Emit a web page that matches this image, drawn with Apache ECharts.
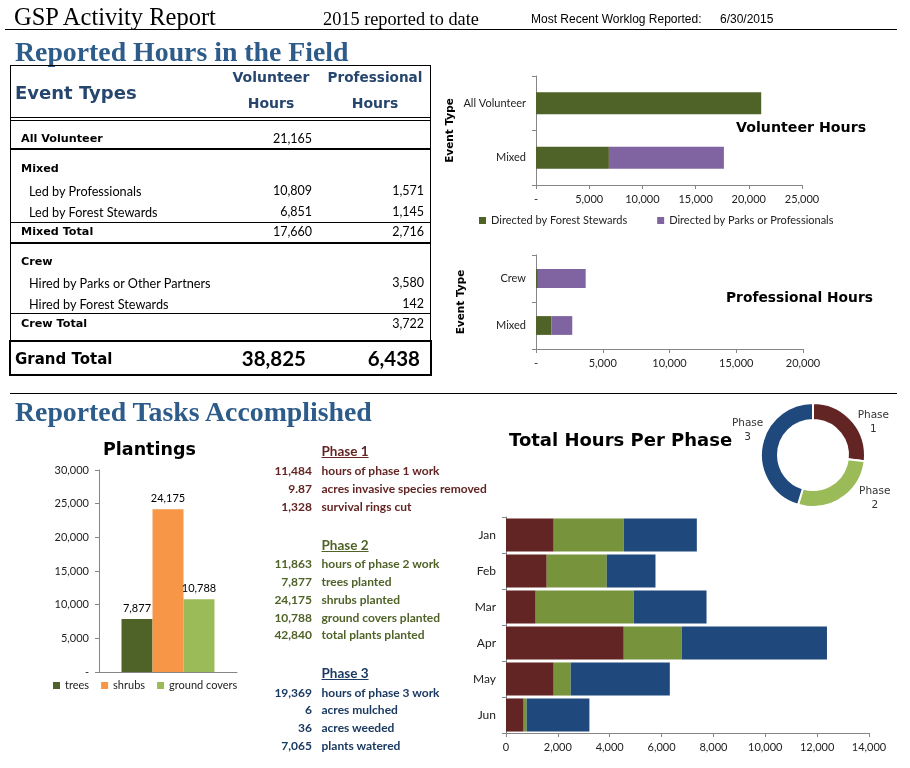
<!DOCTYPE html>
<html><head><meta charset="utf-8">
<script src="https://cdn.jsdelivr.net/npm/echarts@6/dist/echarts.min.js"></script>
<style>
html,body{margin:0;padding:0;background:#fff;}
#wrap{position:relative;width:910px;height:768px;overflow:hidden;background:#fff;}
#chart{position:absolute;left:0;top:0;width:910px;height:768px;}
.t{position:absolute;white-space:nowrap;}
.ln{position:absolute;background:#000;}
</style></head><body><div id="wrap"><div id="chart"></div></div>
<script>
// ---------------- data ----------------
const volCategories = ['All Volunteer', 'Mixed'];
const volByStewards = [21165, 6851];
const volByParks = [0, 10809];
const proCategories = ['Crew', 'Mixed'];
const proByStewards = [142, 1145];
const proByParks = [3580, 1571];
const seriesNames = ['Directed by Forest Stewards', 'Directed by Parks or Professionals'];
const volTicks = [0, 25000, 5000];
const proTicks = [0, 20000, 5000];

const plantNames = ['trees', 'shrubs', 'ground covers'];
const plantValues = [7877, 24175, 10788];
const plantTicks = [0, 30000, 5000];

const months = ['Jan', 'Feb', 'Mar', 'Apr', 'May', 'Jun'];
const phase1Hours = [1840, 1570, 1145, 4542, 1840, 682];
const phase2Hours = [2702, 2316, 3783, 2239, 656, 116];
const phase3Hours = [2818, 1879, 2806, 5598, 3822, 2419];
const monthTicks = [0, 14000, 2000];

const phaseNames = ['Phase 1', 'Phase 2', 'Phase 3'];
const phaseTotals = [11484, 11863, 19369];

const tableHead = ['Event Types', 'Volunteer', 'Hours', 'Professional', 'Hours'];
const tableLabels = ['All Volunteer', 'Mixed', 'Led by Professionals', 'Led by Forest Stewards', 'Mixed Total', 'Crew', 'Hired by Parks or Other Partners', 'Hired by Forest Stewards', 'Crew Total'];
const tableVolunteer = ['21,165', '', '10,809', '6,851', '17,660', '', '', '', ''];
const tableProfessional = ['', '', '1,571', '1,145', '2,716', '', '3,580', '142', '3,722'];
const tableKinds = ['group', 'group', 'item', 'item', 'group', 'group', 'item', 'item', 'group'];
const grandTotal = ['Grand Total', '38,825', '6,438'];

const phase1Stats = [['11,484', 'hours of phase 1 work'], ['9.87', 'acres invasive species removed'], ['1,328', 'survival rings cut']];
const phase2Stats = [['11,863', 'hours of phase 2 work'], ['7,877', 'trees planted'], ['24,175', 'shrubs planted'], ['10,788', 'ground covers planted'], ['42,840', 'total plants planted']];
const phase3Stats = [['19,369', 'hours of phase 3 work'], ['6', 'acres mulched'], ['36', 'acres weeded'], ['7,065', 'plants watered']];

// ---------------- layout & styles ----------------
const C = {
  green: '#4f6228', purple: '#8064a2', orange: '#f79646', lgreen: '#9bbb59',
  red: '#632523', mgreen: '#77933c', blue: '#1f497d', axis: '#868686', head: '#2e5c8a'
};
const BOLD = 'DejaVu Sans';
const wrap = document.getElementById('wrap');
function txt(s, x, y, o) {
  o = o || {};
  const d = document.createElement('div');
  d.className = 't';
  d.textContent = s;
  const fs = o.size || 12, lh = Math.round(fs * 1.4);
  d.style.fontSize = fs + 'px';
  d.style.lineHeight = lh + 'px';
  d.style.top = (y - lh / 2) + 'px';
  d.style.fontFamily = o.font || 'Lato';
  d.style.fontWeight = o.weight || 'normal';
  d.style.color = o.color || '#000';
  if (o.underline) d.style.textDecoration = 'underline';
  if (o.align === 'right') { d.style.right = (910 - x) + 'px'; }
  else if (o.align === 'center') { d.style.left = x + 'px'; d.style.transform = 'translateX(-50%)'; }
  else d.style.left = x + 'px';
  wrap.appendChild(d);
}
function line(x, y, w, h) {
  const d = document.createElement('div');
  d.className = 'ln';
  d.style.left = x + 'px'; d.style.top = y + 'px'; d.style.width = w + 'px'; d.style.height = h + 'px';
  wrap.appendChild(d);
}
function box(x, y, w, h, b) {
  const d = document.createElement('div');
  d.style.position = 'absolute';
  d.style.boxSizing = 'border-box';
  d.style.left = x + 'px'; d.style.top = y + 'px'; d.style.width = w + 'px'; d.style.height = h + 'px';
  d.style.border = b + 'px solid #000';
  wrap.appendChild(d);
}

// header
txt('GSP Activity Report', 14, 17, { font: 'Liberation Serif', size: 24.5 });
txt('2015 reported to date', 323, 19, { font: 'Liberation Serif', size: 18.3 });
txt('Most Recent Worklog Reported:', 531, 19, { font: 'Liberation Sans', size: 12 });
txt('6/30/2015', 720, 19, { font: 'Liberation Sans', size: 12 });
line(5, 29, 892, 1);
txt('Reported Hours in the Field', 15, 51, { font: 'Liberation Serif', size: 27.8, weight: 'bold', color: C.head });
line(10, 393, 887, 1);
txt('Reported Tasks Accomplished', 15, 411, { font: 'Liberation Serif', size: 27.8, weight: 'bold', color: C.head });

// table
const headBlue = '#27466e';
box(10, 65, 421, 311, 1);
txt(tableHead[0], 15, 92, { font: BOLD, size: 18, weight: 'bold', color: headBlue });
txt(tableHead[1], 271, 77, { font: BOLD, size: 14, weight: 'bold', color: headBlue, align: 'center' });
txt(tableHead[2], 271, 103, { font: BOLD, size: 14, weight: 'bold', color: headBlue, align: 'center' });
txt(tableHead[3], 375, 77, { font: BOLD, size: 13.6, weight: 'bold', color: headBlue, align: 'center' });
txt(tableHead[4], 375, 103, { font: BOLD, size: 14, weight: 'bold', color: headBlue, align: 'center' });
const tableLines = [[117, 1], [120, 1], [148, 2], [222, 1], [242, 2], [313, 1]];
tableLines.forEach(l => line(10, l[0], 421, l[1]));
const rowY = [139, 169, 190.5, 211.5, 232, 262, 283, 303.5, 324];
tableLabels.forEach((s, i) => {
  const grp = tableKinds[i] === 'group';
  if (grp) txt(s, 21, rowY[i], { font: BOLD, size: 11.2, weight: 'bold' });
  else txt(s, 29, rowY[i], { size: 12.7 });
  if (tableVolunteer[i]) txt(tableVolunteer[i], 312, rowY[i], { size: 12.5, align: 'right' });
  if (tableProfessional[i]) txt(tableProfessional[i], 424, rowY[i], { size: 12.5, align: 'right' });
});
box(9, 340, 423, 36, 2);
txt(grandTotal[0], 15, 359, { font: BOLD, size: 15, weight: 'bold' });
txt(grandTotal[1], 306, 358, { size: 20.5, weight: 'bold', align: 'right' });
txt(grandTotal[2], 420, 358, { size: 20.5, weight: 'bold', align: 'right' });

// phase stats
function phaseBlock(title, stats, yTitle, ys, color) {
  txt(title, 321.5, yTitle, { size: 13.5, weight: 'bold', color, underline: true });
  stats.forEach((s, i) => {
    txt(s[0], 312, ys[i], { size: 12, weight: 'bold', color, align: 'right' });
    txt(s[1], 321.5, ys[i], { size: 12, weight: 'bold', color });
  });
}
phaseBlock(phaseNames[0], phase1Stats, 451.5, [470, 488, 506], '#632523');
phaseBlock(phaseNames[1], phase2Stats, 545, [563, 581, 599, 617, 634.5], '#4f6228');
phaseBlock(phaseNames[2], phase3Stats, 673, [692, 709.5, 727.5, 745.5], '#1b3a62');

// ---------------- chart ----------------
const fmtDash = v => v === 0 ? '-' : v.toLocaleString('en-US');
const fmtNum = v => v.toLocaleString('en-US');
const lbl = { fontFamily: 'Lato', fontSize: 11, color: '#222' };
function valAxis(g, t, fmt, horizontal) {
  return {
    type: 'value', gridIndex: g, min: t[0], max: t[1], interval: t[2],
    axisLine: { show: true, lineStyle: { color: C.axis } },
    axisTick: { show: true, length: 4, lineStyle: { color: C.axis } },
    splitLine: { show: false },
    axisLabel: Object.assign({}, lbl, { formatter: fmt, margin: horizontal ? 9 : 10 })
  };
}
function catAxis(g, data, extra) {
  return Object.assign({
    type: 'category', gridIndex: g, data, inverse: true,
    axisLine: { show: true, lineStyle: { color: C.axis } },
    axisTick: { show: true, length: 4, lineStyle: { color: C.axis } },
    axisLabel: Object.assign({}, lbl, { margin: 10 })
  }, extra || {});
}
const nameStyle = { fontFamily: BOLD, fontSize: 10.5, fontWeight: 'bold', color: '#000' };
const titleStyle = size => ({ fontFamily: BOLD, fontSize: size, fontWeight: 'bold', color: '#000' });

const option = {
  animation: false,
  textStyle: { fontFamily: 'Lato' },
  title: [
    { text: 'Volunteer Hours', left: 736, top: 121, padding: 0, textStyle: titleStyle(14.2) },
    { text: 'Professional Hours', left: 726, top: 291, padding: 0, textStyle: titleStyle(13.8) },
    { text: 'Plantings', left: 103, top: 441, padding: 0, textStyle: titleStyle(17.5) },
    { text: 'Total Hours Per Phase', left: 509, top: 432, padding: 0, textStyle: titleStyle(18) }
  ],
  legend: [
    { data: seriesNames, left: 479, top: 215, padding: 0, itemWidth: 7, itemHeight: 7, icon: 'rect', itemGap: 30, textStyle: { fontFamily: 'Lato', fontSize: 11, color: '#222' } },
    { data: plantNames, left: 53, top: 680, padding: 0, itemWidth: 7, itemHeight: 7, icon: 'rect', itemGap: 12, textStyle: { fontFamily: 'Lato', fontSize: 11, color: '#222' } }
  ],
  grid: [
    { left: 536, top: 76, width: 266, height: 109, outerBoundsMode: 'none' },
    { left: 536, top: 255, width: 267, height: 94, outerBoundsMode: 'none' },
    { left: 99, top: 470, width: 138, height: 202, outerBoundsMode: 'none' },
    { left: 506, top: 517, width: 363, height: 216, outerBoundsMode: 'none' }
  ],
  xAxis: [
    valAxis(0, volTicks, fmtDash, true),
    valAxis(1, proTicks, fmtDash, true),
    { type: 'category', gridIndex: 2, data: ['Plantings'], axisLine: { show: true, lineStyle: { color: C.axis } }, axisTick: { show: false }, axisLabel: { show: false } },
    valAxis(3, monthTicks, fmtNum, true)
  ],
  yAxis: [
    catAxis(0, volCategories, { name: 'Event Type', nameLocation: 'middle', nameGap: 80, nameRotate: 90, nameTextStyle: nameStyle }),
    catAxis(1, proCategories, { name: 'Event Type', nameLocation: 'middle', nameGap: 69, nameRotate: 90, nameTextStyle: nameStyle }),
    valAxis(2, plantTicks, fmtDash, false),
    catAxis(3, months, { axisLabel: { fontFamily: 'Lato', fontSize: 12, color: '#222', margin: 10 } })
  ],
  series: [
    { name: seriesNames[0], type: 'bar', xAxisIndex: 0, yAxisIndex: 0, stack: 'v', data: volByStewards, itemStyle: { color: C.green }, barCategoryGap: '60%' },
    { name: seriesNames[1], type: 'bar', xAxisIndex: 0, yAxisIndex: 0, stack: 'v', data: volByParks, itemStyle: { color: C.purple }, barCategoryGap: '60%' },
    { name: seriesNames[0], type: 'bar', xAxisIndex: 1, yAxisIndex: 1, stack: 'p', data: proByStewards, itemStyle: { color: C.green }, barCategoryGap: '60%' },
    { name: seriesNames[1], type: 'bar', xAxisIndex: 1, yAxisIndex: 1, stack: 'p', data: proByParks, itemStyle: { color: C.purple }, barCategoryGap: '60%' },
  ].concat(plantNames.map((n, i) => ({
    name: n, type: 'bar', xAxisIndex: 2, yAxisIndex: 2, data: [plantValues[i]], barWidth: 31, barGap: '0%',
    itemStyle: { color: [C.green, C.orange, C.lgreen][i] },
    label: { show: true, position: 'top', distance: 5, fontFamily: 'Lato', fontSize: 11, color: '#000', formatter: p => fmtNum(p.value) }
  }))).concat([
    { name: phaseNames[0], type: 'bar', xAxisIndex: 3, yAxisIndex: 3, stack: 'm', data: phase1Hours, itemStyle: { color: C.red }, barCategoryGap: '8%' },
    { name: phaseNames[1], type: 'bar', xAxisIndex: 3, yAxisIndex: 3, stack: 'm', data: phase2Hours, itemStyle: { color: C.mgreen }, barCategoryGap: '8%' },
    { name: phaseNames[2], type: 'bar', xAxisIndex: 3, yAxisIndex: 3, stack: 'm', data: phase3Hours, itemStyle: { color: C.blue }, barCategoryGap: '8%' },
    {
      name: 'Total Hours Per Phase', type: 'pie', center: [813, 455], radius: [35, 52], startAngle: 90, clockwise: true,
      itemStyle: { borderColor: '#fff', borderWidth: 2 },
      label: { show: true, position: 'outside', formatter: p => p.name.replace(' ', '\n'), fontFamily: 'DejaVu Sans', fontSize: 10.5, lineHeight: 14, color: '#333', align: 'center' },
      labelLine: { show: false, length: 6, length2: 0 },
      labelLayout: p => {
        const off = [[12, 6], [25, -5], [-3, -16]][p.dataIndex];
        return { dx: off[0], dy: off[1], align: 'center' };
      },
      data: phaseNames.map((n, i) => ({ name: n, value: phaseTotals[i], itemStyle: { color: [C.red, C.lgreen, C.blue][i] } }))
    }
  ])
};
const chart = echarts.init(document.getElementById('chart'), null, { renderer: 'canvas' });
chart.setOption(option);
</script></body></html>
